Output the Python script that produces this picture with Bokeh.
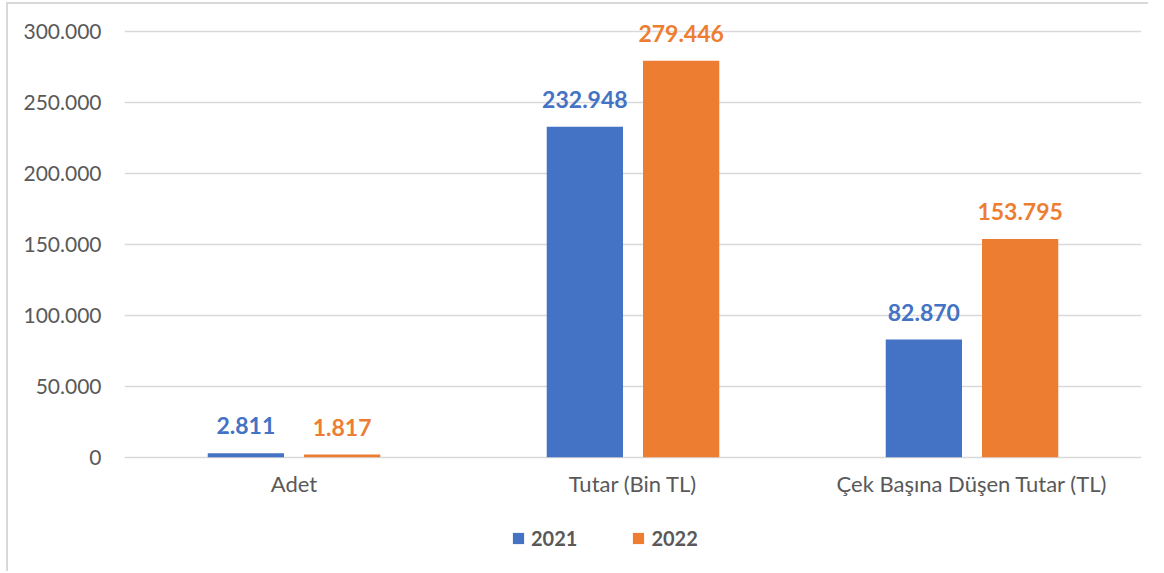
from bokeh.plotting import figure
from bokeh.models import ColumnDataSource, FactorRange, Range1d, LabelSet, Legend, LegendItem, CustomJSTickFormatter, FixedTicker
from bokeh.core.properties import value
from bokeh.transform import dodge
from bokeh.embed import file_html
from bokeh.resources import INLINE

categories = ["Adet", "Tutar (Bin TL)", "Çek Başına Düşen Tutar (TL)"]
series_names = ["2021", "2022"]
values_2021 = [2811, 232948, 82870]
values_2022 = [1817, 279446, 153795]
y_ticks = [0, 50000, 100000, 150000, 200000, 250000, 300000]

BLUE = "#4472C4"
ORANGE = "#ED7D31"
TEXT = "#595959"
FONT = "Lato"

def fmt(v):
    return f"{v:,}".replace(",", ".")

src = ColumnDataSource(dict(
    cat=categories,
    base=[0] * len(categories),
    v21=values_2021,
    v22=values_2022,
    l21=[fmt(v) for v in values_2021],
    l22=[fmt(v) for v in values_2022],
))

PX = 300000 / 424.0  # data units per pixel
p = figure(
    x_range=FactorRange(*categories, range_padding=0),
    y_range=Range1d(-100 * PX, 300000 + 22 * PX),
    width=1142, height=569,
    output_backend="svg", toolbar_location=None,
    x_axis_location=None,
    min_border_left=116, min_border_right=9, min_border_top=5, min_border_bottom=16,
)
p.styles = {"margin-left": "6px", "margin-top": "2px",
            "border-left": "2px solid #D9D9D9", "border-top": "2px solid #D9D9D9"}

off = 0.142
w = 0.225
r21 = p.vbar(x=dodge("cat", -off, range=p.x_range), top="v21", width=w, source=src,
             fill_color=BLUE, line_color=None)
r22 = p.vbar(x=dodge("cat", off, range=p.x_range), top="v22", width=w, source=src,
             fill_color=ORANGE, line_color=None)

for col, lab, color, o in [("v21", "l21", BLUE, -off), ("v22", "l22", ORANGE, off)]:
    ls = LabelSet(x=dodge("cat", o, range=p.x_range), y=col, text=lab, source=src,
                  text_align="center", text_baseline="alphabetic", y_offset=19,
                  text_color=color, text_font=value(FONT), text_font_style="bold",
                  text_font_size="23px")
    p.add_layout(ls)

# category labels under the zero line
cat_labels = LabelSet(x="cat", y="base", text="cat", source=src,
                      text_align="center", text_baseline="top", y_offset=-13,
                      text_color=TEXT, text_font=value(FONT), text_font_size="22px")
p.add_layout(cat_labels)

p.outline_line_color = None
p.background_fill_color = "white"
p.border_fill_color = "white"

p.xgrid.grid_line_color = None
p.ygrid.grid_line_color = "#D9D9D9"
p.ygrid.grid_line_width = 1.5

p.yaxis.ticker = FixedTicker(ticks=y_ticks)
p.yaxis.formatter = CustomJSTickFormatter(code="""
return Math.round(tick).toString().replace(/\\B(?=(\\d{3})+(?!\\d))/g, '.');
""")
p.yaxis.axis_line_color = None
p.yaxis.major_tick_line_color = None
p.yaxis.minor_tick_line_color = None
p.yaxis.major_label_standoff = 17
p.yaxis.major_label_text_font = FONT
p.yaxis.major_label_text_font_size = "21px"
p.yaxis.major_label_text_color = TEXT

legend = Legend(items=[LegendItem(label=series_names[0], renderers=[r21]),
                       LegendItem(label=series_names[1], renderers=[r22])],
                orientation="horizontal", location=(387, 7),
                padding=0, margin=0, spacing=54,
                glyph_width=14, glyph_height=14, label_standoff=6,
                label_text_font=FONT, label_text_font_style="bold",
                label_text_font_size="20px", label_text_color=TEXT,
                border_line_alpha=0, background_fill_alpha=0)
p.add_layout(legend, "center")

open("out.html", "w").write(file_html(p, INLINE))
